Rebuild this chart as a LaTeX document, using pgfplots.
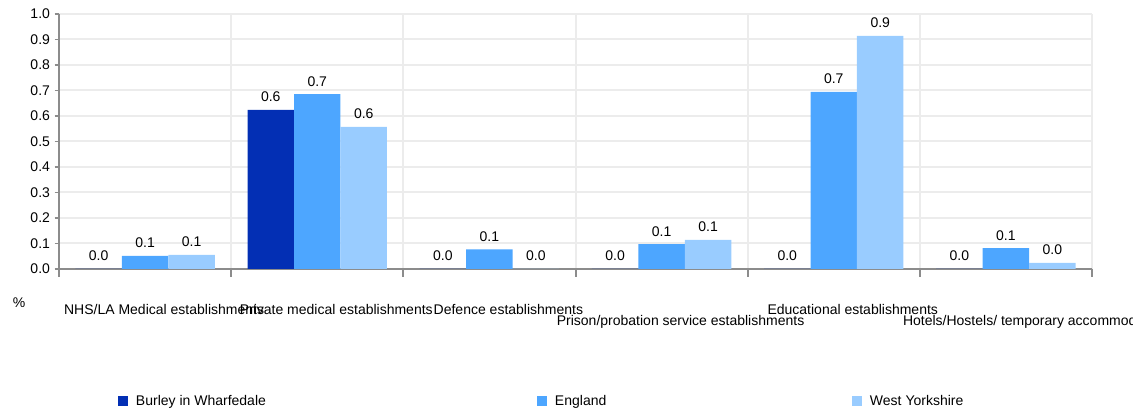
\documentclass[border=0pt]{standalone}
\usepackage{pgfplots}
\pgfplotsset{compat=1.18}
\usepackage{fontspec}
\setmainfont{Liberation Sans}
\definecolor{burley}{RGB}{3,47,180}
\definecolor{england}{RGB}{77,166,255}
\definecolor{wy}{RGB}{153,204,255}
\definecolor{gridc}{RGB}{236,236,236}
\definecolor{axc}{RGB}{140,140,140}
\pgfplotstableread{
x burley england wy
0 0     0.051 0.055
1 0.624 0.686 0.557
2 0     0.077 0
3 0     0.098 0.114
4 0     0.695 0.914
5 0     0.082 0.024
}\data
\begin{document}
\begin{tikzpicture}
\begin{axis}[
  at={(0,0)}, anchor=south west,
  scale only axis, width=774.75pt, height=191.25pt,
  xmin=-0.5, xmax=5.5, ymin=0, ymax=1,
  axis x line*=bottom, axis y line*=left,
  axis line style={draw=axc, line width=1.5pt},
  xtick={0,1,2,3,4,5},
  minor xtick={-0.5,0.5,1.5,2.5,3.5,4.5,5.5},
  xminorgrids=true, ymajorgrids=true, xmajorgrids=false,
  grid style={draw=gridc, line width=1.5pt},
  minor grid style={draw=gridc, line width=1.5pt},
  ytick={0,0.1,0.2,0.3,0.4,0.5,0.6,0.7,0.8,0.9,1.0},
  tick align=outside,
  major tick length=3.25pt, minor tick length=6pt,
  major x tick style={draw=none},
  minor x tick style={draw=axc, line width=1.5pt},
  major y tick style={draw=axc, line width=1.2pt},
  /pgf/number format/assume math mode=true,
  yticklabel style={font=\fontsize{10.5}{12}\selectfont, /pgf/number format/.cd, fixed, zerofill, precision=1},
  xticklabels={NHS/LA Medical establishments, Private medical establishments, Defence establishments, {\raisebox{-8.6pt}{Prison/probation service establishments}}, Educational establishments, {\raisebox{-8.6pt}{\hspace*{15pt}Hotels/Hostels/ temporary accommodation}}},
  xticklabel style={font=\fontsize{10.5}{12}\selectfont, anchor=base, yshift=-30.75pt, xshift=14.25pt, inner sep=0pt},
  ylabel={\%},
  ylabel style={rotate=-90, at={(axis description cs:0,0)}, anchor=center, xshift=-30pt, yshift=-25.5pt, font=\fontsize{10.5}{12}\selectfont},
  ybar, bar width=0.27,
  nodes near coords,
  every node near coord/.append style={font=\fontsize{10.5}{12}\selectfont, anchor=base, yshift=6pt, inner sep=0pt, black,
    /pgf/number format/.cd, fixed, zerofill, precision=1},
  legend columns=3,
  legend style={at={(axis description cs:0,0)}, anchor=west, xshift=44.25pt, yshift=-99pt, draw=none, inner sep=0pt, outer sep=0pt,
    nodes={inner sep=0pt, font=\fontsize{10.5}{12}\selectfont},
    /tikz/every odd column/.append style={column sep=6pt}},
  legend image code/.code={\fill (0pt,-3.75pt) rectangle (7.5pt,3.75pt);},
]
\addplot[fill=burley, draw=none, bar shift=-0.27] table[x=x, y=burley] {\data};
\addplot[fill=england, draw=none, bar shift=0] table[x=x, y=england] {\data};
\addplot[fill=wy, draw=none, bar shift=0.27] table[x=x, y=wy] {\data};
\legend{\makebox[300.75pt][l]{Burley in Wharfedale}, \makebox[222.75pt][l]{England}, West Yorkshire}
\end{axis}
\pgfresetboundingbox
\useasboundingbox (-44.25pt,-105pt) rectangle (805.5pt,201.75pt);
\end{tikzpicture}
\end{document}
